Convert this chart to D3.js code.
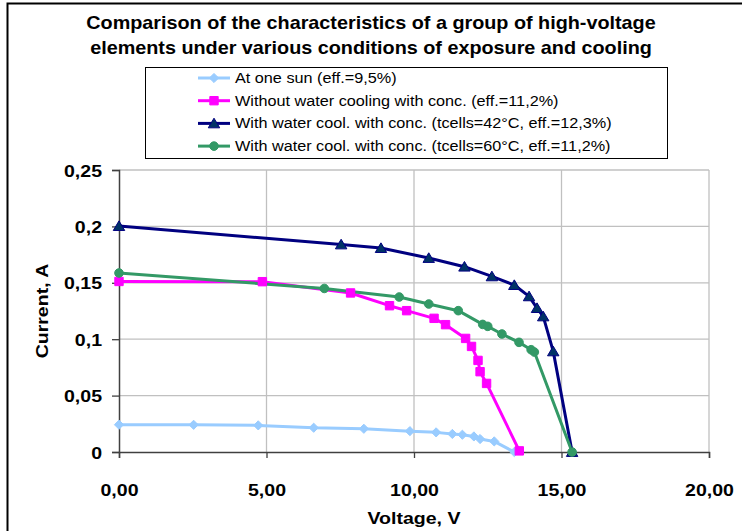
<!DOCTYPE html>
<html><head><meta charset="utf-8">
<script src="https://cdn.jsdelivr.net/npm/d3@7"></script>
<style>body{margin:0;background:#fff;}svg{display:block;font-family:"Liberation Sans",Arial,sans-serif;}</style>
</head><body>
<svg id="c" width="742" height="531"></svg>
<script>
const xTicks = [0, 5, 10, 15, 20];
const yTicks = [0, 0.05, 0.1, 0.15, 0.2, 0.25];
const seriesNames = [
  "At one sun (eff.=9,5%)",
  "Without water cooling with conc. (eff.=11,2%)",
  "With water cool. with conc. (tcells=42°C, eff.=12,3%)",
  "With water cool. with conc. (tcells=60°C, eff.=11,2%)"
];
const oneSunV = [0, 2.53, 4.72, 6.6, 8.3, 9.86, 10.75, 11.3, 11.64, 12.03, 12.24, 12.72, 13.4];
const oneSunI = [0.0242, 0.0241, 0.0236, 0.0215, 0.0206, 0.0185, 0.0174, 0.016, 0.0153, 0.0138, 0.0115, 0.0094, 0];
const noCoolV = [0, 4.86, 7.85, 9.17, 9.75, 10.68, 11.07, 11.75, 11.95, 12.17, 12.24, 12.46, 13.57];
const noCoolI = [0.1512, 0.151, 0.141, 0.1297, 0.1253, 0.1185, 0.1129, 0.1007, 0.0936, 0.0812, 0.0712, 0.0608, 0.001];
const cool42V = [0, 7.53, 8.88, 10.5, 11.71, 12.64, 13.4, 13.9, 14.17, 14.38, 14.72, 15.36];
const cool42I = [0.2003, 0.184, 0.1808, 0.172, 0.1643, 0.1557, 0.148, 0.138, 0.1276, 0.1202, 0.0892, 0];
const cool60V = [0, 6.96, 9.5, 10.5, 11.5, 12.33, 12.5, 12.98, 13.56, 13.97, 14.08, 15.36];
const cool60I = [0.1587, 0.145, 0.1374, 0.1312, 0.1253, 0.1131, 0.1114, 0.1046, 0.0972, 0.0907, 0.0886, 0];
const lineColors = ["#99CCFF", "#FF00FF", "#000080", "#339966"];
const markerFills = ["#99CCFF", "#FF00FF", "#003366", "#339966"];

// custom marker shapes (size argument = half extent)
const diamond = { draw(c, r) { c.moveTo(0, -r); c.lineTo(r, 0); c.lineTo(0, r); c.lineTo(-r, 0); c.closePath(); } };
const square = { draw(c, r) { c.rect(-r, -r, 2 * r, 2 * r); } };
const triangle = { draw(c, r) { c.moveTo(0, -r); c.lineTo(r * 1.1, r * 0.85); c.lineTo(-r * 1.1, r * 0.85); c.closePath(); } };
const circle = { draw(c, r) { c.moveTo(r, 0); c.arc(0, 0, r, 0, 2 * Math.PI); } };
const markerShapes = [diamond, square, triangle, circle];
const markerR = [4.6, 4.2, 5.2, 4.3];

const svg = d3.select("#c");
const L = 119, R = 709, T = 170, B = 452;
const SX = 1.15;
const x = d3.scaleLinear().domain([0, 20]).range([L, R]);
const y = d3.scaleLinear().domain([0, 0.25]).range([B, T]);

// outer border
svg.append("rect").attr("x", 7.5).attr("y", 3.5).attr("width", 760).attr("height", 560)
  .attr("fill", "#fff").attr("stroke", "#000").attr("stroke-width", 2);

// title
const titleLines = ["Comparison of the characteristics of a group of high-voltage",
  "elements under various conditions of exposure and cooling"];
svg.append("g").selectAll("text").data(titleLines).join("text")
  .attr("text-anchor", "middle").attr("font-weight", "bold").attr("font-size", 18)
  .attr("transform", (d, k) => `translate(371,${29 + k * 25}) scale(1.1,1)`)
  .text(d => d);

// gridlines
svg.append("g").selectAll("line").data(yTicks.filter(d => d > 0)).join("line")
  .attr("x1", L).attr("x2", R).attr("y1", d => y(d)).attr("y2", d => y(d))
  .attr("stroke", "#c0c0c0").attr("stroke-width", 1.3);
svg.append("g").selectAll("line").data(xTicks.filter(d => d > 0)).join("line")
  .attr("x1", d => x(d)).attr("x2", d => x(d)).attr("y1", T).attr("y2", B)
  .attr("stroke", "#c0c0c0").attr("stroke-width", 1.3);

// axes
const xAxis = d3.axisBottom(x).tickValues(xTicks).tickSize(6).tickPadding(0)
  .tickFormat(d => d3.format(".2f")(d).replace(".", ","));
const gx = svg.append("g").attr("transform", `translate(0,${B})`).call(xAxis);
gx.selectAll(".tick text").attr("y", 0).attr("dy", 0).attr("transform", `translate(0,44) scale(${SX},1)`);
const yAxis = d3.axisLeft(y).tickValues(yTicks).tickSize(7).tickPadding(0)
  .tickFormat(d => d === 0 ? "0" : String(+d.toFixed(2)).replace(".", ","));
const gy = svg.append("g").attr("transform", `translate(${L},0)`).call(yAxis);
gy.selectAll(".tick text").attr("x", 0).attr("dy", 0).attr("transform", `translate(-17,6) scale(${SX},1)`);
[gx, gy].forEach(g => {
  g.select(".domain").attr("stroke", "#404040").attr("stroke-width", 1.5);
  g.selectAll(".tick line").attr("stroke", "#404040").attr("stroke-width", 1.3);
  g.selectAll("text").attr("font-size", 17).attr("font-weight", "bold").attr("fill", "#000")
    .attr("font-family", "Liberation Sans, Arial, sans-serif");
});

// axis titles
svg.append("text").attr("transform", `translate(${x(10)},524) scale(${SX},1)`).attr("text-anchor", "middle")
  .attr("font-size", 17).attr("font-weight", "bold").text("Voltage, V");
svg.append("text").attr("transform", `translate(48,${(T + B) / 2}) rotate(-90) scale(${SX},1)`).attr("text-anchor", "middle")
  .attr("font-size", 17).attr("font-weight", "bold").text("Current, A");

// series
const series = [
  { v: oneSunV, i: oneSunI },
  { v: noCoolV, i: noCoolI },
  { v: cool42V, i: cool42I },
  { v: cool60V, i: cool60I }
].map((s, k) => ({ pts: s.v.map((vv, j) => [vv, s.i[j]]), k }));

const line = d3.line().x(d => x(d[0])).y(d => y(d[1]));
series.forEach(s => {
  svg.append("path").attr("d", line(s.pts)).attr("fill", "none")
    .attr("stroke", lineColors[s.k]).attr("stroke-width", 3).attr("stroke-linejoin", "round");
});
series.forEach(s => {
  const sym = d3.symbol().type(markerShapes[s.k]).size(markerR[s.k]);
  svg.append("g").selectAll("path").data(s.pts).join("path")
    .attr("transform", d => `translate(${x(d[0])},${y(d[1])})`)
    .attr("d", sym).attr("fill", markerFills[s.k]).attr("stroke", lineColors[s.k]).attr("stroke-width", 1);
});

// legend
svg.append("rect").attr("x", 145.5).attr("y", 67.5).attr("width", 522).attr("height", 91)
  .attr("fill", "#fff").attr("stroke", "#000").attr("stroke-width", 1);
const lg = svg.append("g").selectAll("g").data(seriesNames).join("g")
  .attr("transform", (d, k) => `translate(0,${78 + k * 22.7})`);
lg.append("line").attr("x1", 198).attr("x2", 230).attr("y1", 0).attr("y2", 0)
  .attr("stroke", (d, k) => lineColors[k]).attr("stroke-width", 3);
lg.append("path").attr("transform", "translate(214,0)")
  .attr("d", (d, k) => d3.symbol().type(markerShapes[k]).size(markerR[k])())
  .attr("fill", (d, k) => markerFills[k]).attr("stroke", (d, k) => lineColors[k]);
lg.append("text").attr("transform", "translate(235,5) scale(1.12,1)").attr("font-size", 14.5).attr("fill", "#000")
  .text(d => d);
</script>
</body></html>
